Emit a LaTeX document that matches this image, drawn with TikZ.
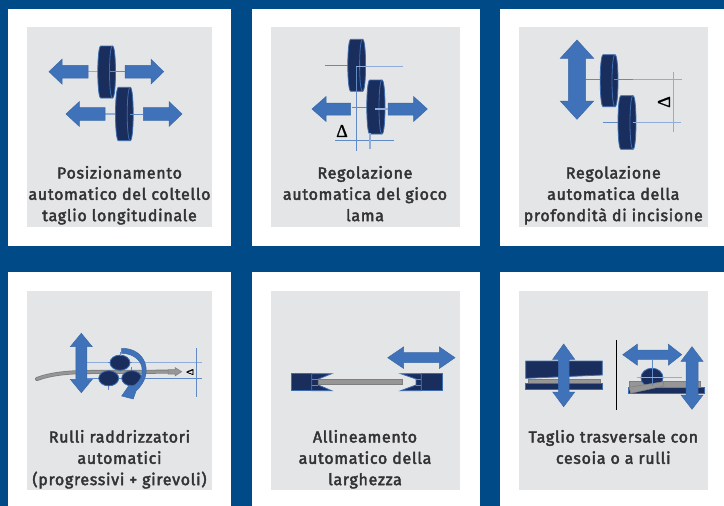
\documentclass[tikz,border=0pt]{standalone}
\usepackage{fontspec}
\setmainfont{Fira Sans}[FakeBold=2.6,LetterSpace=4.4]
\newfontfamily\deltafont{Liberation Serif}[FakeBold=1]
\definecolor{navybg}{HTML}{004A87}
\definecolor{panelgrey}{HTML}{E4E5E7}
\definecolor{arrowblue}{HTML}{3F72B8}
\definecolor{arrowedge}{HTML}{3A69A8}
\definecolor{discnavy}{HTML}{1A2E5E}
\definecolor{discedge}{HTML}{3D6DB0}
\definecolor{guideblue}{HTML}{5F8AC6}
\definecolor{guidelight}{HTML}{8FADD8}
\definecolor{stripgrey}{HTML}{969696}
\definecolor{stripedge}{HTML}{7E7E7E}
\definecolor{captext}{HTML}{333335}
\tikzset{
  whitepanel/.style={fill=white,draw=none},
  greypanel/.style={fill=panelgrey,draw=none},
  bluearrow/.style={fill=arrowblue,draw=arrowedge,line width=.5pt,line join=miter},
  discbody/.style={fill=discnavy,draw=discedge,line width=.8pt},
  guide/.style={draw=guideblue,line width=1pt},
  guidepale/.style={draw=guidelight,line width=1.1pt},
  strip/.style={fill=stripgrey,draw=stripedge,line width=.5pt},
  caption/.style={anchor=north,align=center,inner sep=0pt,text=captext,
    font=\fontsize{16}{21.3}\selectfont},
  deltamark/.style={inner sep=0pt,text=black,font=\deltafont\fontsize{18}{18}\selectfont},
}
% disc: x0 x1 y0 y1
\newcommand{\disc}[4]{%
  \path[discbody] ({#1+3},#3) -- ({#2-3},#3)
    .. controls ({#2+1},#3) and ({#2+1},#4) .. ({#2-3},#4)
    -- ({#1+3},#4)
    .. controls ({#1-1},#4) and ({#1-1},#3) .. ({#1+3},#3) -- cycle;
  \path[draw=discedge,line width=.8pt] ({#2-3},#3)
    .. controls ({#2-7},#3) and ({#2-7},#4) .. ({#2-3},#4);
}
% horizontal single arrow: tip headbase tail y headhalf shafthalf
\newcommand{\harrow}[6]{%
  \path[bluearrow] (#1,#4) -- (#2,{#4-#5}) -- (#2,{#4-#6}) -- (#3,{#4-#6})
    -- (#3,{#4+#6}) -- (#2,{#4+#6}) -- (#2,{#4+#5}) -- cycle;
}
% horizontal double arrow: x0 b0 b1 x1 y headhalf shafthalf
\newcommand{\hdouble}[7]{%
  \path[bluearrow] (#1,#5) -- (#2,{#5-#6}) -- (#2,{#5-#7}) -- (#3,{#5-#7})
    -- (#3,{#5-#6}) -- (#4,#5) -- (#3,{#5+#6}) -- (#3,{#5+#7})
    -- (#2,{#5+#7}) -- (#2,{#5+#6}) -- cycle;
}
% vertical double arrow: y0 b0 b1 y1 x headhalf shafthalf
\newcommand{\vdouble}[7]{%
  \path[bluearrow] (#5,#1) -- ({#5+#6},#2) -- ({#5+#7},#2) -- ({#5+#7},#3)
    -- ({#5+#6},#3) -- (#5,#4) -- ({#5-#6},#3) -- ({#5-#7},#3)
    -- ({#5-#7},#2) -- ({#5-#6},#2) -- cycle;
}
\begin{document}
\begin{tikzpicture}[x=1pt,y=-1pt]
\useasboundingbox (0,0) rectangle (724,506);
\fill[navybg] (0,0) rectangle (724,506);
% panels
\path[whitepanel] (8,8.5) rectangle (231,245.5);
\path[whitepanel] (252,8.5) rectangle (479.5,245.5);
\path[whitepanel] (500,8.5) rectangle (724,245.5);
\path[whitepanel] (8,272) rectangle (231,506);
\path[whitepanel] (252,272) rectangle (479.5,506);
\path[whitepanel] (500,272) rectangle (724,506);
\path[greypanel] (27,27) rectangle (212,227);
\path[greypanel] (270.5,27) rectangle (460,227);
\path[greypanel] (519,27) rectangle (708,227);
\path[greypanel] (27,291) rectangle (212,490);
\path[greypanel] (270.5,291) rectangle (460,490);
\path[greypanel] (519,291) rectangle (708,490);
% captions
\node[caption] (cap1) at (119.5,163.4) {\strut Posizionamento\\automatico del coltello\\taglio longitudinale};
\node[caption] (cap2) at (365,163.4) {\strut Regolazione\\automatica del gioco\\lama};
\node[caption] (cap3) at (613.3,163.4) {\strut Regolazione\\automatica della\\profondità di incisione};
\node[caption] (cap4) at (119.5,427.4) {\strut Rulli raddrizzatori\\automatici\\(progressivi + girevoli)};
\node[caption] (cap5) at (365,427.4) {\strut Allineamento\\automatico della\\larghezza};
\node[caption] (cap6) at (613.3,427.4) {\strut Taglio trasversale con\\cesoia o a rulli};

% --- panel 1
\draw[guidepale] (88,71.7) -- (98,71.7) (112,71.7) -- (125,71.7);
\draw[guidepale] (105,114) -- (116,114);
\draw[guide] (130,114) -- (143.3,114);
\harrow{49}{62}{88}{71.7}{12.4}{6.4}
\harrow{163.7}{151}{125}{71.7}{12.4}{6.4}
\harrow{66}{79.3}{105}{114}{12.4}{6.4}
\harrow{182}{169}{143.3}{114}{12.4}{6.4}
\disc{97.8}{115.5}{46}{98}
\disc{115.5}{133.2}{87.3}{140.7}
\draw[guide] (110,71.7) -- (125,71.7);
\draw[guide] (130,114) -- (143.3,114);

% --- panel 2
\harrow{312}{326}{350.7}{109}{12.4}{6}
\harrow{427.3}{413.7}{388}{109}{12.4}{6}
\draw[guide] (325.3,65.3) -- (348,65.3);
\draw[guide] (352,107.3) -- (367,107.3);
\disc{347.8}{365.6}{39.3}{91.3}
\disc{366.8}{385}{80}{134}
\draw[guidepale] (356,66.7) -- (403.3,66.7);
\draw[guide] (356,66.7) -- (356,150.7);
\draw[guidepale] (375,109) -- (388,109);
\draw[guide] (335,140.3) -- (394,140.3);
\draw[guidepale] (370,133) -- (370,148.7);
\node[deltamark] (delta2) at (342,131) {Δ};

% --- panel 3
\draw[guide] (585.7,79.7) -- (600,79.7);
\draw[guide] (602.7,122.7) -- (618,122.7);
\vdouble{40}{58.3}{101}{119.3}{577}{16.7}{8.7}
\disc{600.2}{618}{54.7}{106.7}
\disc{618}{636}{95.7}{149.3}
\draw[guidepale] (614,79.7) -- (681.7,79.7);
\draw[guide] (614,79.7) -- (633,79.7);
\draw[guidepale] (632.7,122.7) -- (681,122.7);
\draw[guidepale] (673.7,72) -- (673.7,132.3);
\node[deltamark,rotate=90] (delta3) at (664,102) {Δ};

% --- panel 4
\draw[guidepale] (86.7,362.7) -- (201.7,362.7);
\draw[guide] (86.7,378.3) -- (201.7,378.3);
\draw[guide] (196.7,348.3) -- (196.7,396.7);
\draw[line width=4pt,draw=stripedge,line cap=round] (37,379) .. controls (50,374) and (68,372) .. (90,372) -- (168,371.7);
\draw[line width=2.4pt,draw=stripgrey,line cap=round] (37,379) .. controls (50,374) and (68,372) .. (90,372) -- (168,371.7);
\path[strip] (168,369.5) -- (175,369.5) -- (175,367.5) -- (181.7,371.7) -- (175,376) -- (175,374) -- (168,374) -- cycle;
\vdouble{333.3}{346.7}{379.3}{392.7}{81.3}{11}{5.5}
\draw[guide] (120,352) -- (120,372) (108.5,370) -- (108.5,390) (131.7,367) -- (131.7,390) (98,378.3) -- (142,378.3) (108,362.7) -- (132,362.7);
\path[discbody] (120,362.7) ellipse [x radius=10,y radius=7.6];
\path[discbody] (108.7,378.3) ellipse [x radius=10,y radius=7.6];
\path[discbody] (131.7,378.3) ellipse [x radius=10,y radius=7.6];
\draw[guide] (120,352) -- (120,356) (108.5,386) -- (108.5,390) (131.7,386) -- (131.7,390);
\path[bluearrow] (121.7,348.3) .. controls (146,348) and (155,374) .. (136,391) -- (133.3,399) -- (121.7,396) -- (129.3,385) -- (131.5,387) .. controls (149,378) and (145,354) .. (121.7,353.3) -- cycle;
\node[deltamark,rotate=90,font=\deltafont\fontsize{10}{10}\selectfont] (delta4) at (190,372) {Δ};

% --- panel 5
\hdouble{387.7}{403.7}{439.3}{455}{357.7}{10.8}{5}
\path[discbody,line join=miter] (291,373.7) rectangle (311.7,390.7);
\path[discbody,line join=miter] (311.7,373.7) -- (331.7,373.7) -- (318.3,379) -- (318.3,385) -- (331.7,390.7) -- (311.7,390.7) -- cycle;
\path[discbody,line join=miter] (421.3,373.7) rectangle (442.3,390.7);
\path[discbody,line join=miter] (421.3,373.7) -- (400.7,373.7) -- (416,379) -- (416,385) -- (400.7,390.7) -- (421.3,390.7) -- cycle;
\draw[guide] (311.7,379.5) -- (318.3,379.5) (311.7,385) -- (318.3,385) (416,379.5) -- (421.3,379.5) (416,385) -- (421.3,385);
\path[strip] (318.3,379.7) rectangle (402.7,384.7);

% --- panel 6
\path[discbody,line join=miter] (525.7,361) -- (602.3,361) -- (602.3,375) -- (525.7,378.3) -- cycle;
\path[strip] (528.3,379.3) rectangle (600.7,383.3);
\path[discbody,line join=miter] (525.7,383.5) rectangle (602.3,389.7);
\vdouble{344}{359.3}{392}{406.7}{563.7}{11}{5.3}
\draw[black,line width=.9pt] (616.3,340) -- (616.3,410);
\path[discbody,line join=miter] (628.3,387.3) rectangle (704,393.3);
\path[strip] (629,381) rectangle (700,387.3);
\path[discbody] (652,377.7) ellipse [x radius=11,y radius=9.5];
\path[strip] (629,387.3) -- (663.3,381.7) -- (664,386) -- (630.7,393.3) -- cycle;
\draw[guide] (652,360) -- (652,385.5);
\draw[guidepale] (636.7,377.7) -- (681.7,377.7);
\hdouble{622.7}{637.3}{668.3}{681.7}{354.7}{10.5}{4.7}
\vdouble{346.7}{361.3}{395}{409.3}{692}{11}{6}
\end{tikzpicture}
\end{document}
